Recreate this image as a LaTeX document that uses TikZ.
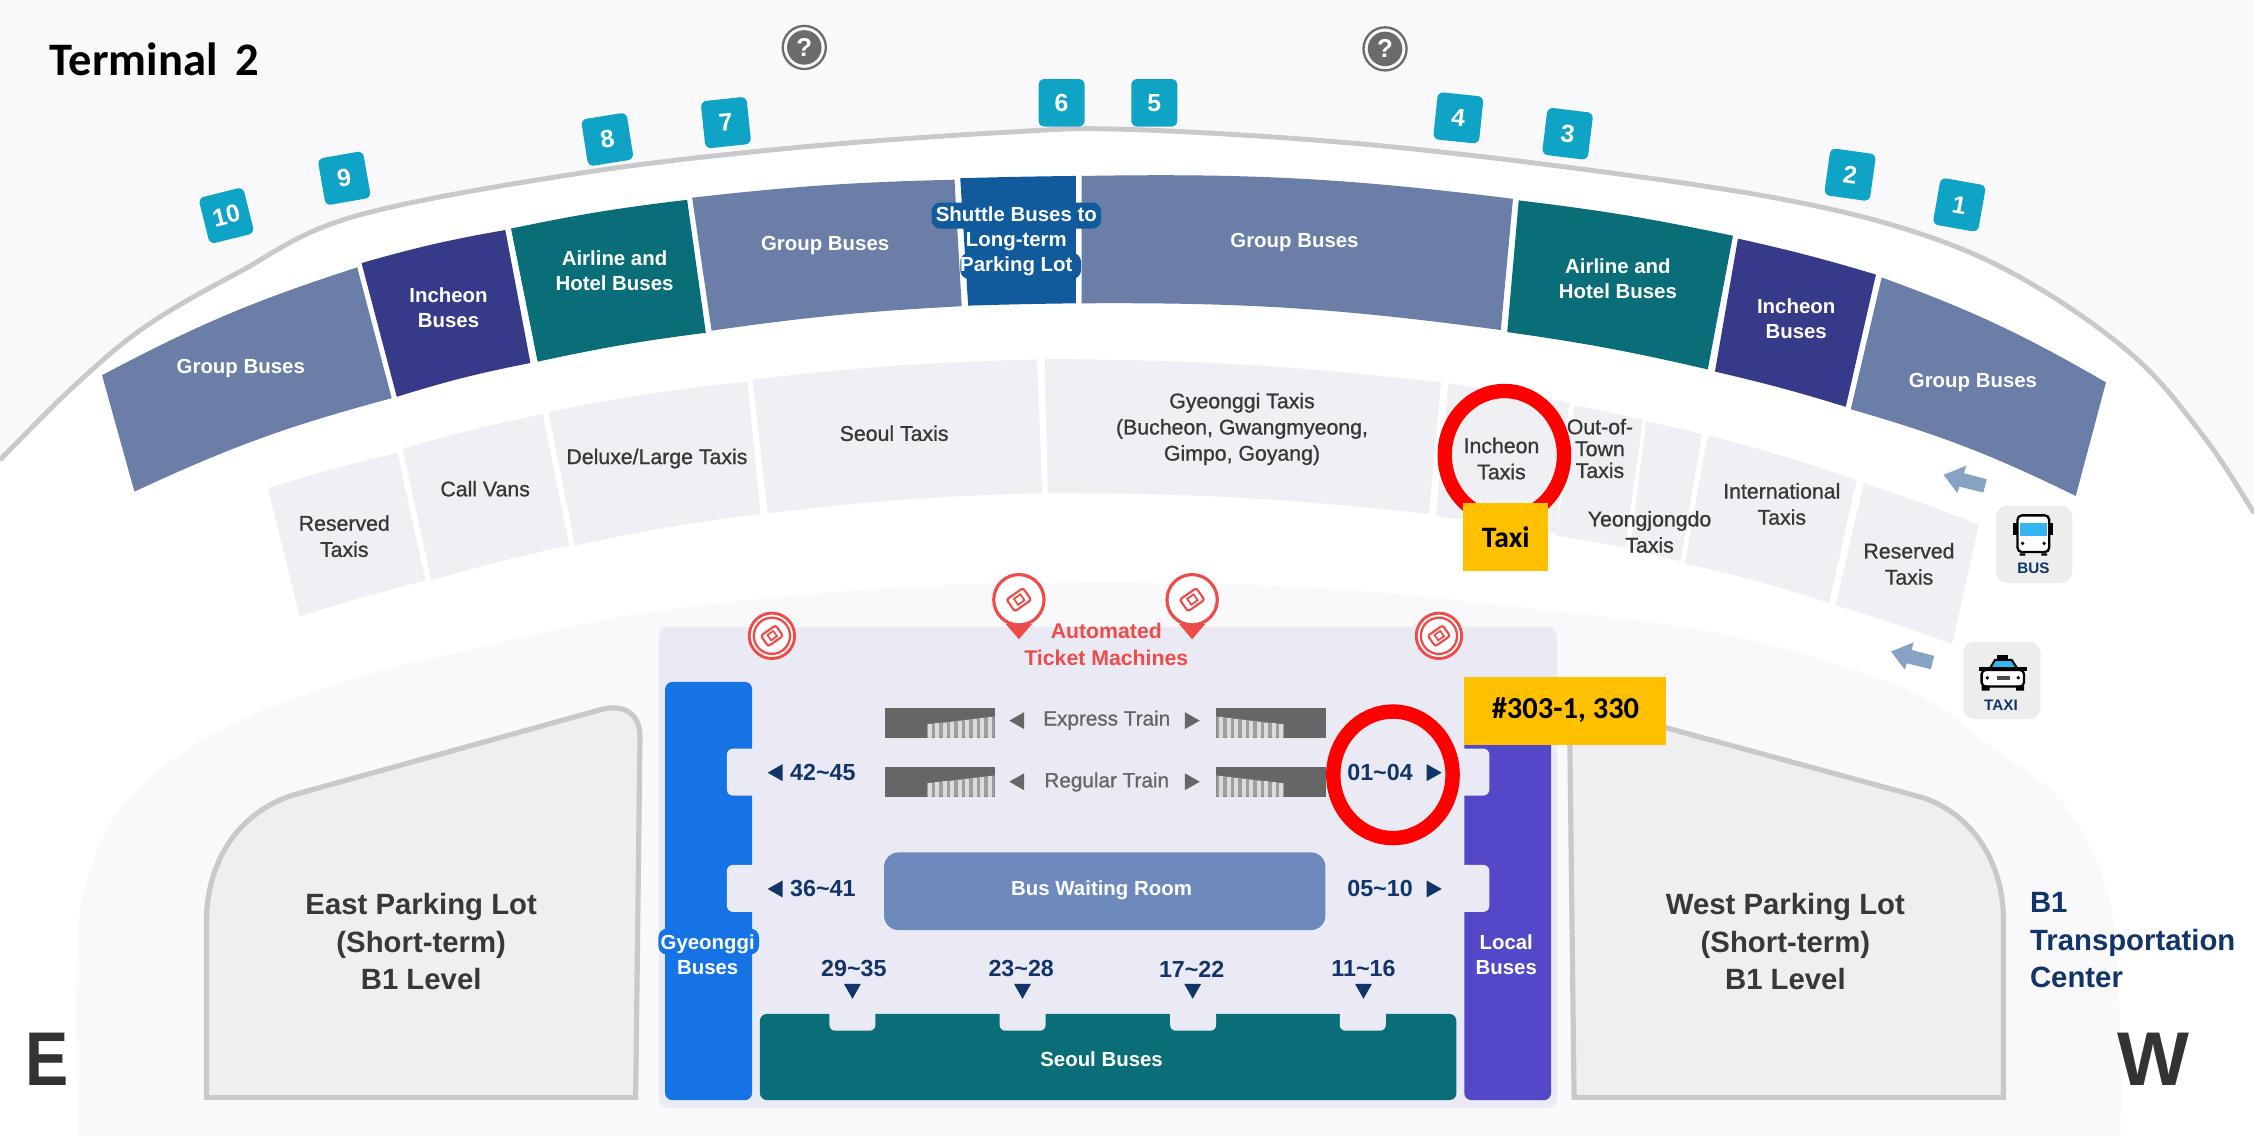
\documentclass[tikz,border=0pt]{standalone}
\usepackage{fontspec}
\usepackage{xcolor}
\usepackage{tikz}
\usetikzlibrary{calc,shapes.geometric}
\setmainfont{Liberation Sans}
\newfontfamily\medfont[FakeBold=1]{Liberation Sans}
\newfontfamily\markfont{Carlito}
\definecolor{offwhite}{HTML}{F9F9FB}
\definecolor{archgray}{HTML}{C9C9CB}
\definecolor{groupblue}{HTML}{6A7EA8}
\definecolor{incheonblue}{HTML}{363A88}
\definecolor{hotelteal}{HTML}{0A6E78}
\definecolor{shuttleblue}{HTML}{115B9C}
\definecolor{taxicell}{HTML}{EFF0F4}
\definecolor{panelgray}{HTML}{E9EAF3}
\definecolor{gyeonggiblue}{HTML}{1573E6}
\definecolor{localviolet}{HTML}{5348C8}
\definecolor{waitblue}{HTML}{6E8ABD}
\definecolor{navytext}{HTML}{123468}
\definecolor{ticketred}{HTML}{EE4B4B}
\definecolor{badgeteal}{HTML}{0FA4C6}
\definecolor{lotgray}{HTML}{EFEFF1}
\definecolor{arrowblue}{HTML}{86A3C3}
\definecolor{markyellow}{HTML}{FFC000}
\definecolor{icongray}{HTML}{EDEDED}
\definecolor{screencyan}{HTML}{35B4F4}
\tikzset{
	bustext/.style={text=white,align=center,font=\bfseries\fontsize{7.1}{8.7}\selectfont},
	taxitext/.style={text=black!78,align=center,font=\medfont\fontsize{7.4}{9.1}\selectfont},
	traintext/.style={text=black!60,font=\medfont\fontsize{7.2}{9}\selectfont},
	rangetext/.style={text=navytext,font=\bfseries\fontsize{8.1}{9}\selectfont},
	lottext/.style={text=black!78,align=center,font=\bfseries\fontsize{10.2}{13}\selectfont},
	badge/.style={fill=badgeteal,text=white,rounded corners=2pt,minimum width=16pt,minimum height=16.5pt,inner sep=0pt,font=\bfseries\fontsize{8.6}{9}\selectfont},
	marktext/.style={text=black,font=\markfont\bfseries\fontsize{#1}{11}\selectfont},
	signtext/.style={text=navytext,font=\bfseries\fontsize{5.3}{6}\selectfont},
	compass/.style={text=black!80,font=\bfseries\fontsize{26.5}{27}\selectfont},
	redring/.style={draw=red,line width=5pt}
}
\def\segment[#1](#2)(#3)(#4)(#5)(#6){\fill[#1] (#2) to[bend left=#6] (#3) -- (#4) to[bend right=#6] (#5) -- cycle;}
\def\pointer[#1](#2,#3)(#4){\fill[#1,shift={(#2,#3)},rotate=#4] (5.2,0) -- (-5.2,-5.9) -- (-5.2,5.9) -- cycle;}
\def\ticket(#1,#2)(#3){\begin{scope}[shift={(#1,#2)},rotate=35,scale=#3]
	\draw[ticketred,line width=.75pt,rounded corners=.8pt] (-7,-5) rectangle (7,5);
	\draw[ticketred,line width=.6pt] (-2.5,-2.5) rectangle (3,2.5);
	\end{scope}}
\def\pinmark(#1,#2){\fill[ticketred] (#1-9,#2+17) -- (#1,#2+27.5) -- (#1+9,#2+17) -- cycle;
	\filldraw[fill=white,draw=ticketred,line width=1.1pt] (#1,#2) circle (17.5);
	\ticket(#1,#2)(1)}
\def\roundmark(#1,#2){\filldraw[fill=white,draw=ticketred,line width=1pt] (#1,#2) circle (15.8);
	\draw[ticketred,line width=.8pt] (#1,#2) circle (12.6);
	\ticket(#1,#2)(.9)}
\def\helpmark(#1,#2)(#3){\draw[black!58,line width=.8pt] (#1,#2) circle (15);
	\node[circle,fill=black!58,text=white,minimum size=12pt,inner sep=0pt,font=\bfseries\fontsize{9}{9}\selectfont] (#3) at (#1,#2) {?};}
\def\stairicon(#1,#2)[#3]{\begin{scope}[shift={(#1,#2)},xscale=#3]
	\fill[black!60] (0,0) rectangle (76,20.4);
	\fill[black!38] (29,11) -- (76,5.6) -- (76,20.4) -- (29,20.4) -- cycle;
	\foreach \i in {0,...,8} \fill[black!14] ({29.5+\i*5.2},{11-\i*.6}) rectangle ++(2.9,{9.4+\i*.6});
	\end{scope}}
\def\wayarrow(#1,#2){\fill[arrowblue,shift={(#1,#2)}] (0,0) -- (15.7,-6.3) -- (14.3,-1.1) -- (30,3.1) -- (27.7,12.3) -- (11,8.2) -- (9.6,12.7) -- cycle;}

\begin{document}
\begin{tikzpicture}[x=.5pt,y=-.5pt]
	\useasboundingbox (0,0) rectangle (1568,798.6);
	%%%%%%%%%% fundo %%%%%%%%%%
	\fill[offwhite] (0,0) rectangle (1568,798.6);
	\fill[white] plot[smooth,tension=.6] coordinates {(0,320) (50,270) (100,228) (165,190) (245,151) (400,121) (550,103) (700,92) (784,90) (934,99) (1084,115.5) (1234,137.5) (1334,162) (1409,195) (1484,247.5) (1534,305) (1568,357)} -- (1568,798.6) -- (0,798.6) -- cycle;
	\draw[archgray,line width=1.7pt] plot[smooth,tension=.6] coordinates {(0,320) (50,270) (100,228) (165,190) (245,151) (400,121) (550,103) (700,92) (784,90) (934,99) (1084,115.5) (1234,137.5) (1334,162) (1409,195) (1484,247.5) (1534,305) (1568,357)};
	\fill[offwhite] plot[smooth,tension=.6] coordinates {(54,790) (54,655) (63,605) (90,555) (151,509) (241,474) (332,451) (452,426) (620,409) (784,405) (930,410) (1071,424) (1198,441) (1325,479) (1388,522) (1436,560) (1467,625) (1475,718) (1475,790)} -- cycle;

	%%%%%%%%%% paragens de autocarro %%%%%%%%%%
	\segment[groupblue](71,261)(248.5,186)(272.5,277)(93.5,342)(5)
	\segment[incheonblue](251.5,183)(351.5,160)(369,252.5)(276,276)(3)
	\segment[hotelteal](355.5,159)(478,139)(491,231.5)(374,251.6)(2.5)
	\segment[groupblue](481.5,137.5)(664,125)(669,213)(495,230)(2.5)
	\segment[shuttleblue](668,124)(748.5,122.4)(748.5,211)(673.5,212.6)(.5)
	\segment[groupblue](752.5,122.4)(1052.5,138.3)(1044,229.6)(752.5,211)(4)
	\segment[hotelteal](1056.5,139.4)(1205.5,164)(1188,257)(1048.5,231)(2.5)
	\segment[incheonblue](1209,166)(1305,191)(1284,283)(1193,258.5)(2)
	\segment[groupblue](1309,193)(1465,266)(1444,345)(1287.5,284.7)(5)

	%%%%%%%%%% praças de táxi %%%%%%%%%%
	\segment[taxicell](186.5,339.6)(276.5,315)(296,404)(208.5,429)(2)
	\segment[taxicell](280,312)(377.5,288)(396,379.5)(300,403.7)(2)
	\segment[taxicell](381.5,286.5)(520,265.4)(529,357.5)(400,379.5)(2.5)
	\segment[taxicell](523.5,264)(721.5,250)(725,343)(534,357)(2.5)
	\segment[taxicell](726.5,249.7)(1002.5,266)(994,357.5)(729,343)(3)
	\segment[taxicell](1007.5,266.7)(1091.5,280.5)(1082.5,371)(999,359)(1)
	\segment[taxicell](1095.5,282)(1143,292)(1130.5,381)(1082.5,372.6)(1)
	\segment[taxicell](1145,293)(1184,302)(1169,390.5)(1134,382)(1)
	\segment[taxicell](1188,303)(1291.5,334)(1272.5,419.4)(1172,392)(2.5)
	\segment[taxicell](1296.5,336)(1376.5,365)(1358,448)(1277,421)(1.5)

	%%%%%%%%%% parques %%%%%%%%%%
	\filldraw[fill=lotgray,draw=archgray,line width=1.8pt] (143.6,763.4) -- (143.6,640) .. controls (144,600) and (165,565) .. (205,552.7) -- (416,494.2) .. controls (432,489) and (445,495) .. (445.2,512) -- (442.2,763.4) -- cycle;
	\filldraw[fill=lotgray,draw=archgray,line width=1.8pt] (1095,763.4) -- (1092,512) .. controls (1092,497) and (1100,490) .. (1112,493.5) -- (1337,554.7) .. controls (1372,566) and (1393.7,600) .. (1393.7,640) -- (1393.7,763.4) -- cycle;

	%%%%%%%%%% terminal subterrâneo %%%%%%%%%%
	\fill[panelgray,rounded corners=3pt] (458.5,436) rectangle (1083,770.5);
	\fill[gyeonggiblue,rounded corners=2.5pt] (462.7,474.4) rectangle (523.2,765.3);
	\fill[localviolet,rounded corners=2.5pt] (1018.6,474.4) rectangle (1079,765.3);
	\fill[hotelteal,rounded corners=2.5pt] (528.6,705.3) rectangle (1013.2,765.3);
	\fill[waitblue,rounded corners=5pt] (615,593) rectangle (922,647);
	\foreach \ytab in {520.8,601.7} {
		\fill[panelgray,rounded corners=2pt] (505.7,\ytab) rectangle ++(30,32.6);
		\fill[panelgray,rounded corners=2pt] (1006,\ytab) rectangle ++(30,32.6);
	}
	\foreach \xtab in {577,695.4,814,932} \fill[panelgray,rounded corners=2pt] (\xtab,695) rectangle ++(32,22);
	\fill[gyeonggiblue,rounded corners=3pt] (458,646) rectangle (528,664);
	\fill[shuttleblue,rounded corners=3pt] (648,141) rectangle (766,159);
	\fill[shuttleblue,rounded corners=3pt] (668,176) rectangle (752,194);

	%%%%%%%%%% escadas %%%%%%%%%%
	\stairicon(615.9,492.8)[1]
	\stairicon(615.9,533.8)[1]
	\stairicon(922.2,492.8)[-1]
	\stairicon(922.2,533.8)[-1]
	\pointer[black!60](707.3,501.3)(180)
	\pointer[black!60](829.4,501.3)(0)
	\pointer[black!60](707.3,543.8)(180)
	\pointer[black!60](829.4,543.8)(0)
	\pointer[navytext](539.2,537.5)(180)
	\pointer[navytext](539.2,618.4)(180)
	\pointer[navytext](997.7,537.5)(0)
	\pointer[navytext](997.7,618.4)(0)
	\pointer[navytext](593,689.6)(-90)
	\pointer[navytext](711.3,689.6)(-90)
	\pointer[navytext](829.7,689.6)(-90)
	\pointer[navytext](948.5,689.6)(-90)

	%%%%%%%%%% máquinas de bilhetes %%%%%%%%%%
	\pinmark(708.8,417.2)
	\pinmark(829.3,417.2)
	\roundmark(537,442.3)
	\roundmark(1001,442.3)

	%%%%%%%%%% números das paragens %%%%%%%%%%
	\node[badge,rotate=14] (stop10) at (157.5,150) {10};
	\node[badge,rotate=10] (stop9) at (239.5,124) {9};
	\node[badge,rotate=9] (stop8) at (422.5,97) {8};
	\node[badge,rotate=6] (stop7) at (505,85.3) {7};
	\node[badge] (stop6) at (738.5,71.5) {6};
	\node[badge] (stop5) at (803,71.5) {5};
	\node[badge,rotate=-6] (stop4) at (1014.5,82) {4};
	\node[badge,rotate=-7] (stop3) at (1090.5,93) {3};
	\node[badge,rotate=-8] (stop2) at (1287,121.5) {2};
	\node[badge,rotate=-10] (stop1) at (1363,142.5) {1};
	\helpmark(559.5,33)(helpeast)
	\helpmark(963.5,34)(helpwest)

	%%%%%%%%%% rótulos %%%%%%%%%%
	\node[bustext] (groupa) at (167.5,256) {Group Buses};
	\node[bustext] (incheona) at (312,214) {Incheon\\Buses};
	\node[bustext] (hotela) at (427.5,188.4) {Airline and\\Hotel Buses};
	\node[bustext] (groupb) at (574,171) {Group Buses};
	\node[bustext] (shuttle) at (707,167.5) {Shuttle Buses to\\Long-term\\Parking Lot};
	\node[bustext] (groupc) at (900.5,169) {Group Buses};
	\node[bustext] (hotelb) at (1125.5,194) {Airline and\\Hotel Buses};
	\node[bustext] (incheonb) at (1249.5,222) {Incheon\\Buses};
	\node[bustext] (groupd) at (1372.5,266) {Group Buses};

	\node[taxitext] (reserveda) at (239.5,373) {Reserved\\Taxis};
	\node[taxitext] (callvans) at (337.5,340) {Call Vans};
	\node[taxitext] (deluxe) at (457,319) {Deluxe/Large Taxis};
	\node[taxitext] (seoultaxi) at (622,301.4) {Seoul Taxis};
	\node[taxitext] (gyeonggitaxi) at (864,298.4) {Gyeonggi Taxis\\(Bucheon, Gwangmyeong,\\Gimpo, Goyang)};
	\node[taxitext] (incheontaxi) at (1044.5,319) {Incheon\\Taxis};
	\node[taxitext,font=\medfont\fontsize{7.4}{7.6}\selectfont] (outtown) at (1113,312) {Out-of-\\Town\\Taxis};
	\node[taxitext] (yeongjong) at (1147.5,370) {Yeongjongdo\\Taxis};
	\node[taxitext] (international) at (1239.5,350.6) {International\\Taxis};
	\node[taxitext] (reservedb) at (1328,392.3) {Reserved\\Taxis};

	\node[text=ticketred,align=center,font=\bfseries\fontsize{7.4}{9.3}\selectfont] (machines) at (769.6,448.3) {Automated\\Ticket Machines};
	\node[traintext] (express) at (769.9,501) {Express Train};
	\node[traintext] (regular) at (769.9,544) {Regular Train};
	\node[rangetext] (r4245) at (572.4,537.5) {42\textasciitilde45};
	\node[rangetext] (r3641) at (572.4,618.4) {36\textasciitilde41};
	\node[rangetext] (r0104) at (960,537.5) {01\textasciitilde04};
	\node[rangetext] (r0510) at (960,618.4) {05\textasciitilde10};
	\node[rangetext] (r2935) at (594,674) {29\textasciitilde35};
	\node[rangetext] (r2328) at (710.4,674) {23\textasciitilde28};
	\node[rangetext] (r1722) at (829,674) {17\textasciitilde22};
	\node[rangetext] (r1116) at (948.5,674) {11\textasciitilde16};
	\node[bustext] (waiting) at (766.3,619.4) {Bus Waiting Room};
	\node[bustext] (seoulbus) at (766.3,736.6) {Seoul Buses};
	\node[bustext] (gyeonggibus) at (492.3,664.3) {Gyeonggi\\Buses};
	\node[bustext] (localbus) at (1047.8,664.3) {Local\\Buses};

	\node[lottext] (eastlot) at (293,655) {East Parking Lot\\(Short-term)\\B1 Level};
	\node[lottext] (westlot) at (1242,655) {West Parking Lot\\(Short-term)\\B1 Level};
	\node[lottext,text=navytext,align=left,anchor=west,inner sep=0pt] (transport) at (1411.8,654) {B1\\Transportation\\Center};
	\node[compass,xscale=.85,transform shape] (east) at (33,737) {E};
	\node[compass] (west) at (1498,737) {W};
	\node[marktext=16.2] (terminal) at (107.5,41) {Terminal\ \,2};

	%%%%%%%%%% autocarro e táxi %%%%%%%%%%
	\wayarrow(1352,330.3)
	\wayarrow(1315.5,453.2)
	\fill[icongray,rounded corners=4pt] (1388.5,351.7) rectangle (1441.6,405.7);
	\fill[icongray,rounded corners=4pt] (1365.8,446.3) rectangle (1419.6,500.3);
	\fill[black] (1400.6,364) rectangle (1428.4,372);
	\filldraw[fill=white,draw=black,line width=.8pt,rounded corners=1.5pt] (1403.5,358.5) rectangle (1425.5,384);
	\fill[screencyan] (1405,364) rectangle (1424,373);
	\fill[black] (1405,385) rectangle (1409,386.5) (1420,385) rectangle (1424,386.5);
	\fill[black] (1407,378) circle (1.3) (1422,378) circle (1.3);
	\node[signtext] (bussign) at (1414.5,395.5) {BUS};
	\fill[black] (1389,455.6) rectangle (1397,459.5);
	\filldraw[fill=screencyan,draw=black,line width=.7pt] (1383.7,466) -- (1387.8,459) -- (1399.4,459) -- (1404,466) -- cycle;
	\fill[black] (1376.5,464) rectangle (1410,466.5);
	\filldraw[fill=white,draw=black,line width=.8pt,rounded corners=1.5pt] (1378.5,466) rectangle (1408,477.6);
	\fill[black] (1378.5,477) rectangle (1384,480.4) (1402.5,477) rectangle (1408,480.4);
	\fill[black] (1382.5,471.5) circle (1.3) (1404,471.5) circle (1.3);
	\fill[black!70] (1389,470.2) rectangle (1398,473);
	\node[signtext] (taxisign) at (1392,490.3) {TAXI};

	%%%%%%%%%% destaques %%%%%%%%%%
	\draw[redring] (1046.5,316.5) ellipse (41.5 and 44.5);
	\draw[redring] (969,539) ellipse (41.5 and 44);
	\fill[markyellow] (1017.5,349.8) rectangle (1077,397.4);
	\fill[markyellow] (1018.6,471) rectangle (1159,518.5);
	\node[marktext=10.3] (taximark) at (1047.5,374) {Taxi};
	\node[marktext=10.6] (busmark) at (1089,494) {\#303-1, 330};
\end{tikzpicture}
\end{document}
